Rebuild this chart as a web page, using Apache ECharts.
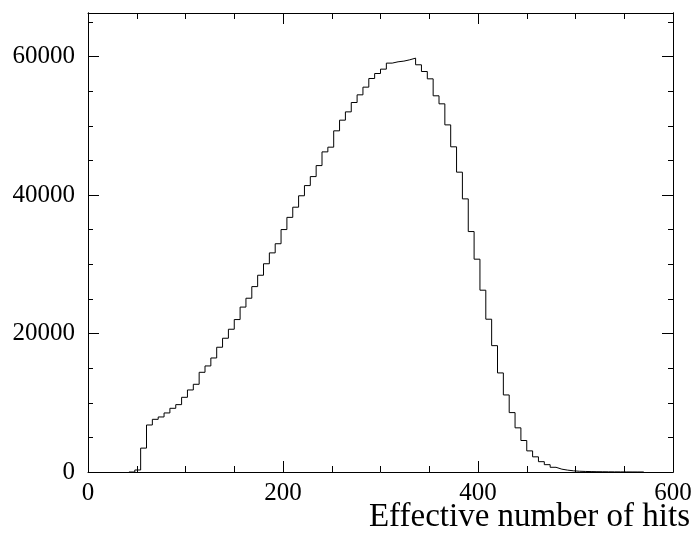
<!DOCTYPE html>
<html>
<head>
<meta charset="utf-8">
<script src="https://cdn.jsdelivr.net/npm/echarts@6/dist/echarts.min.js"></script>
<style>
html,body{margin:0;padding:0;background:#fff;}
#chart{width:695px;height:533px;}
</style>
</head>
<body>
<div id="chart"></div>
<script>
// Histogram bins: left edges (width 6) and counts
const binEdges = [42,48,54,60,66,72,78,84,90,96,102,108,114,120,126,132,138,144,150,156,162,168,174,180,186,192,198,204,210,216,222,228,234,240,246,252,258,264,270,276,282,288,294,300,306,312,318,324,330,336,342,348,354,360,366,372,378,384,390,396,402,408,414,420,426,432,438,444,450,456,462,468,474,480,486,492,498,504,510,516,522,528,534,540,546,552,558,564,570];
const counts = [0,290,3450,6790,7610,7950,8530,9200,9730,10790,11850,12670,14400,15320,16470,18020,19320,20620,22020,23820,25100,26780,28420,30080,31650,32970,35020,36780,38250,39900,41370,42670,44260,46240,46920,49280,50820,52020,53370,54480,55590,56840,57560,58190,59060,59250,59350,59540,59780,58820,57850,56790,54340,53180,50140,46970,43310,39450,34730,30740,26260,22070,18250,14310,11130,8580,6380,4550,3050,2190,1490,1060,680,410,270,170,110,80,60,45,35,25,20,15,12,8,5,3,0];
const xTicks = [0,200,400,600];
const yTicks = [0,20000,40000,60000];
const xTitle = 'Effective number of hits';

const data = binEdges.map((e,i)=>[e,counts[i]]);
const font = "'Liberation Serif','Times New Roman',serif";
const black = '#000';

const chart = echarts.init(document.getElementById('chart'), null, {renderer:'canvas'});
const yMax = 66300;
function yAx(pos, interval, len, labels){
  return {
    type:'value', position:pos, min:0, max:yMax, interval:interval,
    axisLine:{show:true, lineStyle:{color:black, width:1}},
    axisTick:{show:true, inside:true, length:len, lineStyle:{color:black, width:1}},
    splitLine:{show:false},
    axisLabel:{show:labels, margin:13, color:black, fontFamily:font, fontSize:25,
      formatter:v=> yTicks.indexOf(v)>=0 ? String(v) : ''},
  };
}
function xAx(pos, labels){
  return {
    type:'value', position:pos, min:0, max:600, interval:200,
    axisLine:{show:true, onZero:false, lineStyle:{color:black, width:1}},
    axisTick:{show:true, inside:true, length:11, lineStyle:{color:black, width:1}},
    minorTick:{show:true, splitNumber:4, length:6, lineStyle:{color:black, width:1}},
    splitLine:{show:false}, minorSplitLine:{show:false},
    axisLabel:{show:labels, margin:9, color:black, fontFamily:font, fontSize:25,
      formatter:v=> xTicks.indexOf(v)>=0 ? String(v) : ''}
  };
}
chart.setOption({
  animation:false,
  backgroundColor:'#fff',
  grid:{left:88, right:22, top:13, bottom:61, containLabel:false, outerBoundsMode:'none'},
  xAxis:[xAx('bottom', true), xAx('top', false)],
  yAxis:[
    yAx('left', 20000, 11, true),
    yAx('left', 5000, 5, false),
    yAx('right', 20000, 11, false),
    yAx('right', 5000, 5, false)
  ],
  graphic:[{
    type:'text', right:5, top:501,
    style:{text:xTitle, fill:black, font:"33px 'Liberation Serif','Times New Roman',serif"}
  }],
  series:[{
    type:'line', step:'end', data:data, xAxisIndex:0, yAxisIndex:0,
    showSymbol:false, symbol:'none',
    lineStyle:{color:black, width:1}, silent:true
  }]
});
</script>
</body>
</html>
